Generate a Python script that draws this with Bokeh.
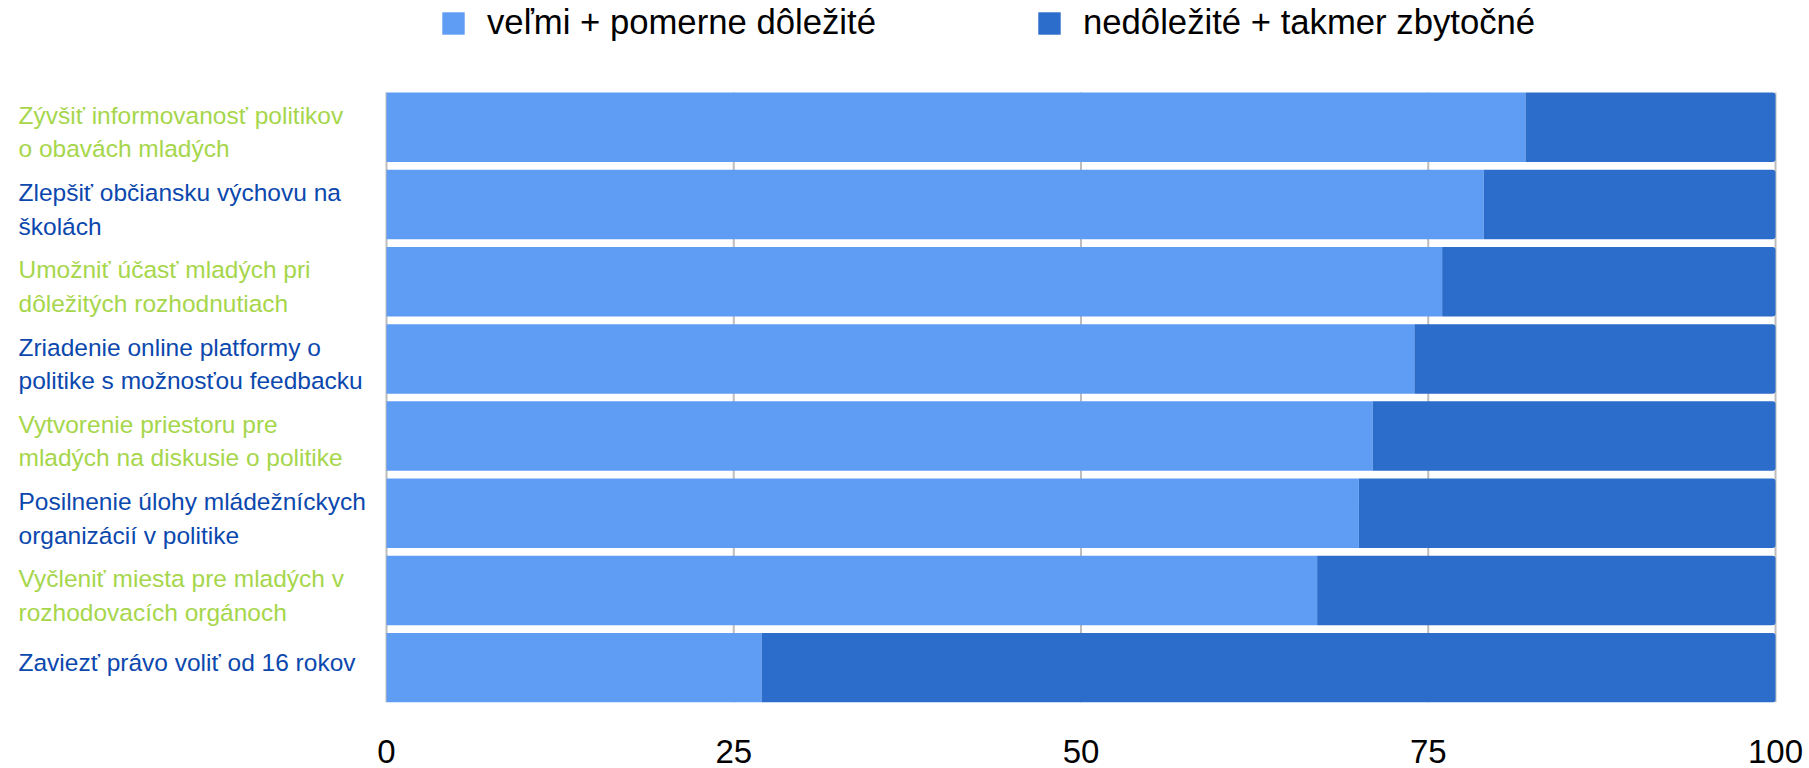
from bokeh.plotting import figure
from bokeh.models import ColumnDataSource, Range1d, FixedTicker, Legend, LegendItem
from bokeh.core.properties import value
from bokeh.transform import stack
from bokeh.embed import file_html
from bokeh.resources import INLINE

# ---------------- data ----------------
categories = [
    "Zývšiť informovanosť politikov\no obavách mladých",
    "Zlepšiť občiansku výchovu na\nškolách",
    "Umožniť účasť mladých pri\ndôležitých rozhodnutiach",
    "Zriadenie online platformy o\npolitike s možnosťou feedbacku",
    "Vytvorenie priestoru pre\nmladých na diskusie o politike",
    "Posilnenie úlohy mládežníckych\norganizácií v politike",
    "Vyčleniť miesta pre mladých v\nrozhodovacích orgánoch",
    "Zaviezť právo voliť od 16 rokov",
]
important = [82, 79, 76, 74, 71, 70, 67, 27]
unimportant = [18, 21, 24, 26, 29, 30, 33, 73]
series_names = ["veľmi + pomerne dôležité", "nedôležité + takmer zbytočné"]
x_ticks = [0, 25, 50, 75, 100]

# ---------------- styling ----------------
series_colors = ["#5f9df4", "#2c6ccb"]
label_palette = ["#a6d64b", "#0b48ae"]
FONT = "Liberation Sans"

W, H = 1809, 768
zero_px, hundred_px, frame_right_px = 386, 1775, 1777
bars_top_px, bars_bottom_px = 92, 702
bottom_border = H - bars_bottom_px

n = len(categories)
bar_h = 0.9
y_lo, y_hi = -bar_h / 2, n - 1 + bar_h / 2
px_per_y = (bars_bottom_px - bars_top_px) / (y_hi - y_lo)
y_top = y_lo + bars_bottom_px / px_per_y          # frame runs up to the canvas top

scale = (hundred_px - zero_px) / 100.0
x_start = -zero_px / scale
x_end = 100 + (frame_right_px - hundred_px) / scale

ys = [n - 1 - i for i in range(n)]

src = ColumnDataSource(dict(y=ys, v1=important, v2=unimportant))

lbl = ColumnDataSource(dict(
    x=[x_start] * n,
    y=ys,
    text=categories,
    color=[label_palette[i % 2] for i in range(n)],
    yoff=[5 if "\n" in c else -5 for c in categories],
))

grid = ColumnDataSource(dict(x=x_ticks, y0=[y_lo] * len(x_ticks), y1=[y_hi] * len(x_ticks)))

p = figure(width=W, height=H, output_backend="svg", toolbar_location=None,
           x_range=Range1d(x_start, x_end),
           y_range=Range1d(y_lo, y_top),
           y_axis_location=None,
           min_border_left=0, min_border_right=W - frame_right_px,
           min_border_top=0, min_border_bottom=bottom_border)
p.outline_line_color = None
p.background_fill_color = "white"
p.xgrid.visible = False
p.ygrid.visible = False

# grid lines spanning only the bar area
p.segment(x0="x", x1="x", y0="y0", y1="y1", source=grid,
          line_color="#bdbdbd", line_width=2, level="underlay")

r1 = p.hbar(y="y", left=stack(), right=stack("v1"), height=bar_h, source=src,
            fill_color=series_colors[0], line_color=None)
r2 = p.hbar(y="y", left=stack("v1"), right=stack("v1", "v2"), height=bar_h, source=src,
            fill_color=series_colors[1], line_color=None, border_radius=(0, 3, 3, 0))

p.text(x="x", y="y", text="text", source=lbl, text_color="color",
       text_font=value(FONT), text_font_size="24.5px", text_baseline="middle",
       text_align="left", x_offset=18, y_offset="yoff", text_line_height=1.24)

ax = p.xaxis[0]
ax.ticker = FixedTicker(ticks=x_ticks)
ax.axis_line_color = None
ax.major_tick_line_color = None
ax.minor_tick_line_color = None
ax.major_tick_out = 0
ax.major_tick_in = 0
ax.major_label_standoff = 37
ax.major_label_text_font = FONT
ax.major_label_text_font_size = "33px"
ax.major_label_text_color = "#000000"

legend = Legend(items=[LegendItem(label=series_names[0], renderers=[r1]),
                       LegendItem(label=series_names[1], renderers=[r2])],
                orientation="horizontal", location=(439, bars_bottom_px - 4 - 38),
                glyph_width=28, glyph_height=28, label_standoff=20, spacing=159,
                padding=0, margin=0, border_line_color=None, background_fill_alpha=0,
                label_text_font=FONT, label_text_font_size="34.7px",
                label_text_color="#000000")
p.add_layout(legend)

open("out.html", "w").write(file_html(p, INLINE))
